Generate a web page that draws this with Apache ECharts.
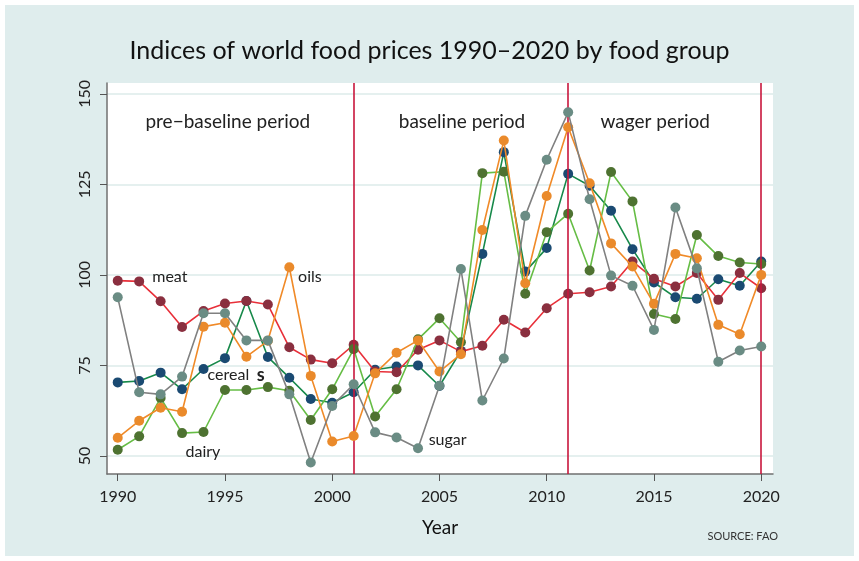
<!DOCTYPE html>
<html><head><meta charset="utf-8">
<script src="https://cdn.jsdelivr.net/npm/echarts@6/dist/echarts.min.js"></script>
<style>html,body{margin:0;padding:0;background:#fff}#c{width:859px;height:561px}</style>
</head><body><div id="c"></div>
<script>
const years = [1990,1991,1992,1993,1994,1995,1996,1997,1998,1999,2000,2001,2002,2003,2004,2005,2006,2007,2008,2009,2010,2011,2012,2013,2014,2015,2016,2017,2018,2019,2020];
const meat = [98.4,98.2,92.7,85.6,90.0,92.1,92.8,91.8,80.0,76.6,75.6,80.7,73.3,73.1,79.3,81.9,78.8,80.4,87.6,84.1,90.8,94.8,95.2,96.8,103.7,98.9,96.8,100.5,93.1,100.5,96.3];
const cereals = [70.3,70.7,73.0,68.4,74.0,77.0,92.8,77.3,71.6,65.7,64.7,67.6,73.8,74.7,75.0,69.3,79.0,105.8,133.9,100.9,107.4,127.9,124.6,117.7,107.1,97.9,93.8,93.4,98.8,97.0,103.7];
const dairy = [51.7,55.4,66.0,56.3,56.6,68.2,68.2,69.0,68.0,59.9,68.4,79.5,60.9,68.4,82.2,88.0,81.4,128.1,128.5,94.8,111.8,116.9,101.2,128.4,120.3,89.2,87.8,111.0,105.2,103.4,103.0];
const oils = [55.0,59.7,63.3,62.2,85.7,86.8,77.4,81.8,102.1,72.1,54.0,55.5,72.8,78.5,81.9,73.3,78.1,112.4,137.1,97.7,121.8,140.8,125.3,108.7,102.3,92.0,105.8,104.6,86.2,83.6,100.0];
const sugar = [93.8,67.6,67.0,71.9,89.4,89.4,81.9,81.9,67.0,48.2,63.8,69.8,56.5,55.1,52.1,69.4,101.6,65.3,76.9,116.3,131.8,144.9,120.9,99.8,97.0,84.8,118.6,101.8,76.0,79.1,80.2];
const xTicks = [1990,1995,2000,2005,2010,2015,2020];
const yTicks = [50,75,100,125,150];
const periodBreaks = [2001,2011,2020];
const periodLabels = [["pre\u2212baseline period",1995.13,142.3],["baseline period",2006.05,142.3],["wager period",2015.06,142.3]];
const seriesLabels = [["meat",1992.43,99.45],["oils",1998.96,99.45],["dairy",1993.97,51.1],["sugar",2005.38,54.4]];

const FONT = 'Lato, "Noto Sans", sans-serif';
const chart = echarts.init(document.getElementById('c'), null, {renderer:'canvas'});
function mk(name, vals, lineColor, dotColor, z){
  return {name, type:'line', data: years.map((y,i)=>[y, vals[i]]), symbol:'circle', symbolSize:10, showSymbol:true,
    lineStyle:{color:lineColor, width:1.6}, itemStyle:{color:dotColor, borderWidth:0}, z:z, emphasis:{disabled:true}, silent:true};
}
const series = [
  mk('cereals', cereals, '#17894a', '#1a4a72', 2),
  mk('meat', meat, '#e8303a', '#8a2f3f', 3),
  mk('dairy', dairy, '#66bd45', '#4e7231', 4),
  mk('oils', oils, '#f08a28', '#ea8a2b', 5),
  mk('sugar', sugar, '#808080', '#6a8c84', 6)
];
series[0].markLine = {silent:true, symbol:'none', label:{show:false}, lineStyle:{color:'#c8163c', width:1.6, type:'solid'},
  data: periodBreaks.map(v=>({xAxis:v}))};
chart.setOption({
  animation:false,
  backgroundColor:'#ffffff',
  title:{text:'Indices of world food prices 1990\u20132020 by food group', left:'center', top:33,
    textStyle:{fontFamily:FONT, fontSize:25, fontWeight:'normal', color:'#111'}},
  grid:{left:107, right:86, top:83, bottom:87, show:true, backgroundColor:'#ffffff', borderWidth:0},
  xAxis:{type:'value', min:1989.5, max:2020.55, name:'Year', nameLocation:'middle', nameGap:44,
    nameTextStyle:{fontFamily:FONT, fontSize:19, color:'#111', fontWeight:'normal'},
    axisLine:{show:true, lineStyle:{color:'#707070', width:1.5}},
    axisTick:{show:true, length:7, customValues:xTicks, lineStyle:{color:'#555'}},
    axisLabel:{customValues:xTicks, formatter:v=>String(v), fontFamily:FONT, fontSize:16, color:'#222', margin:15},
    splitLine:{show:false}},
  yAxis:{type:'value', min:45, max:153,
    axisLine:{show:true, lineStyle:{color:'#707070', width:1.5}},
    axisTick:{show:true, length:7, customValues:yTicks, lineStyle:{color:'#555'}},
    axisLabel:{customValues:yTicks, fontFamily:FONT, fontSize:16, color:'#222', rotate:90, margin:14},
    splitLine:{show:true, lineStyle:{color:'#dcebea', width:1.5}}},
  series
});
const g = [{type:'rect', z:-10, shape:{x:5,y:5,width:849,height:551}, style:{fill:'#dfeded'}, silent:true}];
function px(x,y){return chart.convertToPixel({gridIndex:0},[x,y]);}
periodLabels.forEach(([t,x,y])=>{const p=px(x,y); g.push({type:'text', z:50, x:p[0], y:p[1], style:{text:t, fontFamily:FONT, fontSize:19, fill:'#222', align:'center', verticalAlign:'middle'}});});
seriesLabels.forEach(([t,x,y])=>{const p=px(x,y); g.push({type:'text', z:50, x:p[0], y:p[1], style:{text:t, fontFamily:FONT, fontSize:16, fill:'#222', align:'center', verticalAlign:'middle'}});});
{const p=px(1995.16,72.4); g.push({type:'text', z:50, x:p[0], y:p[1], style:{text:'cereal', fontFamily:FONT, fontSize:16, fill:'#222', align:'center', verticalAlign:'middle'}});
 const q=px(1996.67,72.4); g.push({type:'text', z:50, x:q[0], y:q[1], style:{text:'s', fontFamily:FONT, fontSize:18, fontWeight:'bold', fill:'#222', align:'center', verticalAlign:'middle'}});}
g.push({type:'text', z:50, right:81, top:531, style:{text:'SOURCE: FAO', fontFamily:FONT, fontSize:11, fill:'#333'}});
chart.setOption({graphic:g});
</script></body></html>
